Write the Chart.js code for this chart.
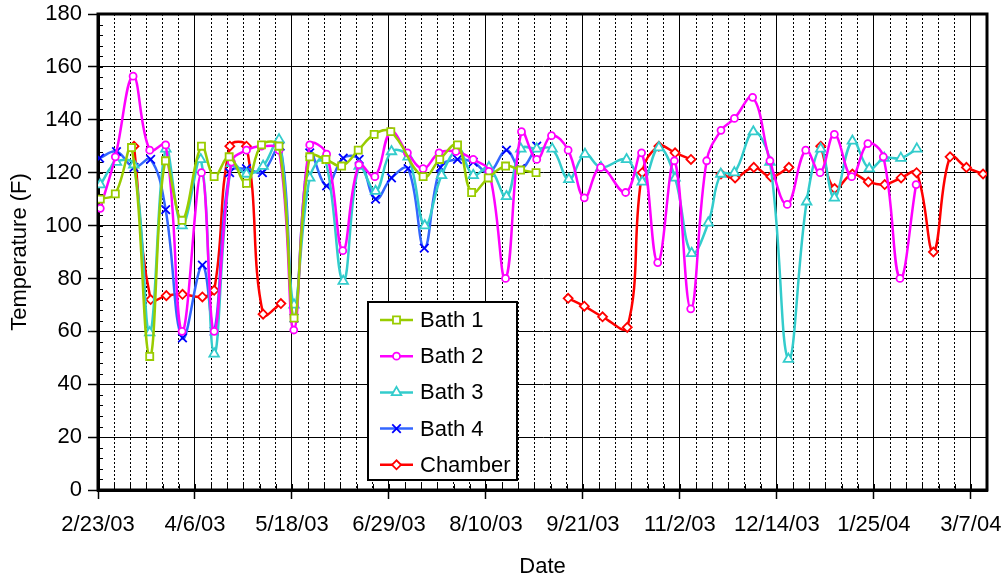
<!DOCTYPE html>
<html>
<head>
<meta charset="utf-8">
<script src="https://cdn.jsdelivr.net/npm/chart.js@4.4.1/dist/chart.umd.min.js"></script>
<style>
  html, body { margin: 0; padding: 0; background: #fff; }
  #wrap { width: 1003px; height: 575px; }
</style>
</head>
<body>
<div id="wrap"><canvas id="tempChart" width="1003" height="575"></canvas></div>
<script>
// x values are days after 2/23/03
const dateLabels = ['2/23/03', '4/6/03', '5/18/03', '6/29/03', '8/10/03', '9/21/03', '11/2/03', '12/14/03', '1/25/04', '3/7/04'];
const yLabels = [0, 20, 40, 60, 80, 100, 120, 140, 160, 180];

const bath1Days  = [1, 7.5, 14.5, 22.4, 29.2, 36.4, 44.8, 50.3, 56.8, 64.3, 70.8, 78.4, 84.9, 91.7, 98.7, 105.5, 112.7, 119.6, 126.8, 140.8, 148, 155.7, 161.8, 169, 176.5, 183, 189.7];
const bath1Temps = [110, 112, 129.5, 50.5, 124.5, 102, 130, 118.5, 126, 116, 130.5, 130, 65, 126, 125, 122.5, 128.5, 134.5, 135.5, 118.5, 125, 130.5, 112.5, 118, 122.5, 121, 120];

const bath2Days  = [1, 7.5, 15.2, 22.4, 29.3, 36.4, 44.8, 50.3, 57.8, 64.3, 70.8, 78.4, 84.8, 91.7, 99, 106, 113, 119.9, 126.8, 134, 140.8, 147.7, 155, 162.5, 169.3, 176.5, 183.4, 190, 196.4, 203.6, 210.6, 217.7, 228.5, 235.4, 242.4, 249.6, 256.7, 263.6, 269.8, 275.6, 283.5, 291, 298.5, 306.5, 312.7, 318.9, 326.4, 333.4, 340.1, 347.3, 354.3];
const bath2Temps = [106.5, 126, 156.5, 128.5, 130.5, 60, 120, 60, 124, 128.5, 130, 128.5, 60.5, 130.5, 127, 90.5, 123, 118.5, 135.5, 127.5, 121.5, 127.5, 128, 125, 120.5, 80, 135.5, 125, 134, 128.5, 110.5, 122, 112.5, 127.5, 86, 124.5, 68.5, 124.5, 136, 140.5, 148.5, 124.5, 108, 128.5, 120, 134.5, 118.5, 131, 126, 80, 115.5];

const bath3Days  = [1, 8, 15.5, 22.4, 29.4, 36.4, 44.5, 50.3, 57.8, 64.3, 71.5, 78.4, 84.9, 91.7, 98.2, 106.2, 113.1, 120.2, 127.1, 134.3, 141.5, 148.8, 156, 162.5, 169.3, 176.9, 183.1, 190, 196.7, 203.9, 210.9, 217.8, 228.9, 235.7, 242.9, 249.9, 257.1, 264.3, 269.7, 275.6, 283.8, 291, 299, 306.9, 313, 318.9, 326.7, 334, 340.5, 347.7, 354.6];
const bath3Temps = [115.5, 124, 123, 59.5, 129, 100, 125, 51.5, 123.5, 119.5, 122.5, 132.5, 70, 118, 125.5, 79, 122.5, 113, 128, 126, 100, 119, 128.5, 119, 122, 111, 129, 129, 129, 117.5, 127, 122, 125, 116.5, 129.5, 118, 89.5, 101, 119.5, 120, 135.5, 124, 49.5, 109, 129, 110.5, 132, 121.5, 125.5, 125.5, 129];

const bath4Days  = [0.7, 8, 15.6, 22.8, 29.3, 36.6, 45.2, 50.3, 57, 64.3, 71.2, 78.9, 84.9, 91.7, 99, 106.2, 113.1, 120.2, 127.1, 134.3, 141.3, 148.3, 155.7, 162.5, 169.3, 176.9, 183, 190];
const bath4Temps = [125.5, 128, 122, 125, 106, 57.5, 85, 60, 120, 121.5, 120, 130, 65, 127.5, 115, 125.5, 125, 110, 118, 121.5, 91.5, 122, 125, 124, 120, 128.5, 121.5, 130];

// null = no reading (line break)
const chamberDays  = [15.6, 22.8, 29.6, 36.6, 45.2, 50.3, 57.1, 64.3, 71.5, 79.2, 140, 203.6, 210.6, 218.5, 229.2, 235.7, 242.9, 249.9, 256.8, 263, 269.8, 275.9, 284, 291.4, 299.2, 306, 313, 319, 326.7, 333.6, 340.7, 347.8, 354.5, 361.8, 369, 376.1, 383.3];
const chamberTemps = [130, 72, 73.5, 74, 73, 75.5, 130, 130, 66.5, 70.5, null, 72.5, 69.5, 65.5, 61.5, 120, 130, 127.5, 125, null, 119.5, 118, 122, 118.5, 122, null, 130, 114, 119.5, 116.5, 115.5, 118, 120, 90, 126, 122, 119.5];

const xMax = 385;
const yMax = 180;

function pts(days, temps) {
  return days.map((d, i) => ({ x: d, y: temps[i] }));
}

function series(label, days, temps, color, style, radius, pointColor) {
  return {
    label: label,
    data: pts(days, temps),
    borderColor: color,
    backgroundColor: color,
    borderWidth: 2.5,
    tension: 0.4,
    pointStyle: style,
    pointRadius: radius,
    pointBorderColor: pointColor || color,
    pointBackgroundColor: '#fff',
    pointBorderWidth: 1.8,
    spanGaps: false
  };
}

const weekTicks = [];
for (let d = 0; d <= xMax; d += 7) weekTicks.push(d);

const frameAndTicks = {
  id: 'frameAndTicks',
  beforeDatasetsDraw(chart) {
    const { ctx, chartArea: a, scales } = chart;
    ctx.save();
    ctx.strokeStyle = '#000';
    ctx.lineWidth = 1;
    ctx.beginPath();
    weekTicks.forEach(d => {
      const px = Math.round(scales.x.getPixelForValue(d)) + 0.5;
      ctx.moveTo(px, a.bottom);
      ctx.lineTo(px, a.bottom - 6);
    });
    for (let v = 0; v <= yMax; v += 4) {
      const py = Math.round(scales.y.getPixelForValue(v)) + 0.5;
      ctx.moveTo(a.left, py);
      ctx.lineTo(a.left + 5, py);
    }
    ctx.stroke();
    ctx.lineWidth = 3;
    ctx.strokeRect(a.left, a.top, a.right - a.left, a.bottom - a.top);
    ctx.restore();
  }
};

const boxLegend = {
  id: 'boxLegend',
  afterDatasetsDraw(chart) {
    const { ctx, chartArea: a } = chart;
    const left = a.left + 270, top = a.top + 288, w = 149, h = 178;
    ctx.save();
    ctx.fillStyle = '#fff';
    ctx.fillRect(left, top, w, h);
    ctx.strokeStyle = '#000';
    ctx.lineWidth = 2;
    ctx.strokeRect(left, top, w, h);
    chart.data.datasets.forEach((ds, i) => {
      const y = top + 18 + i * 36.2;
      ctx.strokeStyle = ds.borderColor;
      ctx.lineWidth = 2.5;
      ctx.beginPath();
      ctx.moveTo(left + 12, y);
      ctx.lineTo(left + 45, y);
      ctx.stroke();
      ctx.strokeStyle = ds.pointBorderColor;
      ctx.fillStyle = '#fff';
      ctx.lineWidth = 1.8;
      Chart.helpers.drawPoint(ctx, { pointStyle: ds.pointStyle, radius: ds.pointRadius, borderWidth: 1.8, rotation: 0 }, left + 28.5, y);
      ctx.fillStyle = '#000';
      ctx.font = '22px "Liberation Sans", Arial, sans-serif';
      ctx.textBaseline = 'middle';
      ctx.fillText(ds.label, left + 52, y + 1);
    });
    ctx.restore();
  }
};

Chart.defaults.font.family = '"Liberation Sans", Arial, sans-serif';
Chart.defaults.font.size = 22;
Chart.defaults.color = '#000';

new Chart(document.getElementById('tempChart'), {
  type: 'line',
  data: {
    datasets: [
      series('Bath 1', bath1Days, bath1Temps, '#99CC00', 'rect', 5),
      series('Bath 2', bath2Days, bath2Temps, '#FF00FF', 'circle', 3.5),
      series('Bath 3', bath3Days, bath3Temps, '#33CCCC', 'triangle', 5.5),
      series('Bath 4', bath4Days, bath4Temps, '#3366FF', 'crossRot', 6, '#0000FF'),
      series('Chamber', chamberDays, chamberTemps, '#FF0000', 'rectRot', 4.5)
    ]
  },
  options: {
    responsive: false,
    animation: false,
    events: [],
    layout: { padding: { left: 0, right: 16, top: 14, bottom: 0 } },
    plugins: {
      legend: { display: false },
      tooltip: { enabled: false }
    },
    scales: {
      x: {
        type: 'linear',
        position: 'bottom',
        min: 0,
        max: xMax,
        afterBuildTicks: scale => { scale.ticks = dateLabels.map((_, i) => ({ value: i * 42 })); },
        afterFit: scale => { scale.height = 85; scale.paddingLeft = 0; scale.paddingRight = 0; },
        ticks: {
          autoSkip: false,
          maxRotation: 0,
          minRotation: 0,
          padding: 13,
          callback: value => dateLabels[Math.round(value / 42)] || ''
        },
        grid: { color: '#000', lineWidth: 1, tickLength: 9, tickColor: '#000', tickWidth: 1.5 },
        border: { display: true, color: '#000', width: 3 },
        title: { display: true, text: 'Date', font: { size: 22, lineHeight: 1 }, padding: { top: 0, bottom: -3 } }
      },
      xMinor: {
        type: 'linear',
        position: 'bottom',
        min: 0,
        max: xMax,
        afterBuildTicks: scale => { scale.ticks = weekTicks.filter(d => d % 42 !== 0).map(d => ({ value: d })); },
        afterFit: scale => { scale.height = 0; scale.paddingLeft = 0; scale.paddingRight = 0; },
        ticks: { display: false },
        grid: { color: '#000', lineWidth: 1, drawTicks: false },
        border: { display: false, dash: [2, 2] }
      },
      y: {
        type: 'linear',
        min: 0,
        max: yMax,
        afterBuildTicks: scale => { scale.ticks = yLabels.map(v => ({ value: v })); },
        afterFit: scale => { scale.width = 98; scale.paddingTop = 0; scale.paddingBottom = 0; },
        ticks: { padding: 6 },
        grid: { color: '#000', lineWidth: 1, tickLength: 10, tickColor: '#000', tickWidth: 1.5 },
        border: { display: true, color: '#000', width: 3 },
        title: { display: true, text: 'Temperature (F)', font: { size: 22, lineHeight: 1 }, padding: { top: 9, bottom: 0 } }
      }
    }
  },
  plugins: [frameAndTicks, boxLegend]
});
</script>
</body>
</html>
